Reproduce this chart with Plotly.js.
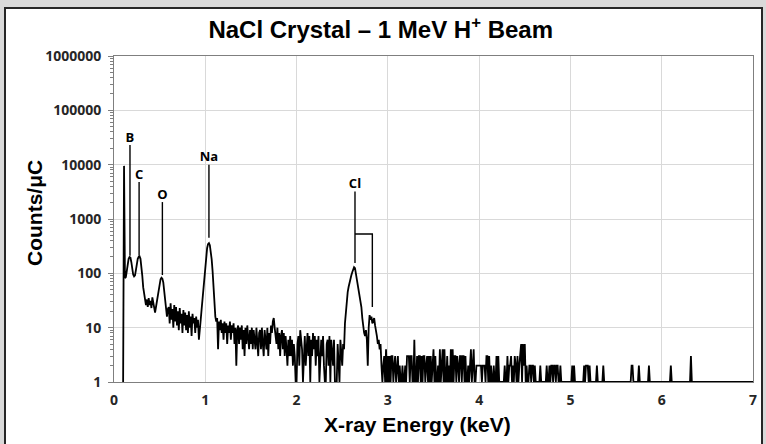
<!DOCTYPE html>
<html>
<head>
<meta charset="utf-8">
<script src="https://cdn.plot.ly/plotly-3.0.1.min.js"></script>
<style>
  html, body { margin: 0; padding: 0; background: #d9d9d9; width: 766px; height: 444px; overflow: hidden; }
  #frame { position: absolute; left: 4px; top: 7px; width: 759px; height: 450px; box-sizing: border-box; border: 2px solid #262626; background: #ffffff; }
  #chart { position: absolute; left: 0; top: 0; width: 766px; height: 444px; }
</style>
</head>
<body>
<div id="frame"></div>
<div id="chart"></div>
<script>
// ---- Spectrum: counts per µC, channels of 0.01 keV starting at 0.10 keV ----
var channelStart = 0.10;   // keV
var channelWidth = 0.01;   // keV

var counts_0 = [ // 0.10 - 0.99 keV
  1, 9500, 82, 85, 110, 150, 185, 200, 195, 160,
  120, 95, 88, 92, 115, 150, 185, 200, 205, 185,
  140, 90, 55, 40, 32, 26, 33, 24, 35, 26,
  31, 23, 36, 27, 22, 19, 24, 30, 40, 52,
  68, 78, 83, 80, 68, 50, 34, 24, 16, 22,
  24, 12, 28, 14, 22, 10, 26, 13, 24, 11,
  20, 9, 23, 12, 18, 8, 21, 11, 19, 9,
  17, 8, 20, 10, 16, 7, 18, 12, 15, 8,
  16, 10, 14, 6, 12, 14, 22, 35, 60, 95
];
var counts_1 = [ // 1.00 - 1.99 keV
  140, 210, 290, 345, 360, 330, 260, 180, 110, 55,
  28, 16, 13, 15, 4, 13, 9, 14, 8, 12,
  6, 13, 8, 12, 5, 11, 8, 13, 6, 11,
  8, 12, 5, 10, 2, 9, 11, 5, 10, 6,
  11, 4, 9, 3, 10, 5, 11, 6, 4, 9,
  5, 10, 4, 9, 6, 4, 10, 5, 3, 8,
  9, 4, 10, 5, 3, 9, 6, 4, 10, 3,
  8, 5, 11, 8, 13, 15, 10, 7, 5, 10,
  4, 8, 3, 7, 9, 4, 8, 3, 7, 4,
  2, 6, 3, 7, 3, 6, 2, 5, 3, 1
];
var counts_2 = [ // 2.00 - 2.99 keV
  1, 5, 7, 2, 9, 6, 4, 1, 5, 7,
  2, 6, 8, 3, 7, 1, 6, 3, 8, 4,
  7, 2, 6, 3, 7, 1, 2, 6, 3, 7,
  2, 1, 1, 5, 6, 2, 7, 1, 6, 4,
  2, 6, 1, 1, 1, 5, 2, 1, 6, 3,
  2, 5, 4, 12, 22, 32, 45, 56, 70, 80,
  92, 105, 120, 130, 125, 100, 75, 55, 45, 38,
  30, 24, 15, 10, 8, 7, 9, 6, 2, 10,
  17, 14, 16, 12, 13, 15, 11, 9, 7, 5,
  6, 4, 5, 2, 1, 2, 3, 1, 4, 1
];
var counts_3 = [ // 3.00 - 3.99 keV
  3, 1, 3, 1, 3, 3, 1, 2, 3, 1,
  2, 3, 1, 2, 1, 1, 2, 1, 1, 2,
  1, 3, 3, 3, 1, 3, 3, 1, 1, 6,
  1, 1, 3, 1, 3, 3, 1, 3, 1, 3,
  3, 1, 2, 3, 1, 3, 1, 3, 1, 2,
  4, 1, 3, 1, 1, 2, 1, 4, 1, 2,
  4, 1, 4, 1, 1, 3, 1, 2, 1, 4,
  1, 4, 1, 3, 3, 1, 3, 2, 1, 3,
  3, 1, 3, 3, 1, 3, 1, 1, 2, 1,
  3, 4, 1, 2, 4, 1, 1, 2, 2, 2
];
var counts_4 = [ // 4.00 - 4.99 keV
  2, 2, 2, 1, 2, 2, 2, 1, 3, 3,
  1, 3, 1, 2, 1, 1, 2, 1, 1, 3,
  1, 3, 1, 1, 1, 1, 1, 1, 2, 1,
  1, 3, 1, 2, 2, 3, 1, 2, 1, 3,
  2, 1, 3, 1, 2, 4, 5, 1, 5, 2,
  5, 1, 2, 1, 1, 2, 2, 1, 2, 2,
  1, 2, 1, 1, 1, 1, 1, 2, 1, 1,
  1, 1, 1, 1, 2, 1, 1, 2, 1, 2,
  2, 1, 2, 2, 1, 2, 2, 1, 1, 2,
  1, 1, 1, 1, 1, 1, 1, 1, 1, 1
];
var counts_5 = [ // 5.00 - 5.99 keV
  1, 1, 2, 1, 2, 1, 1, 1, 1, 1,
  1, 1, 1, 1, 1, 2, 1, 2, 2, 2,
  1, 2, 1, 1, 1, 1, 1, 1, 1, 2,
  1, 1, 1, 1, 1, 1, 2, 1, 1, 1,
  1, 1, 1, 1, 1, 1, 1, 1, 1, 1,
  1, 1, 1, 1, 1, 1, 1, 1, 1, 1,
  1, 1, 1, 1, 1, 1, 1, 2, 2, 1,
  1, 1, 1, 1, 1, 2, 1, 1, 1, 1,
  1, 1, 1, 1, 1, 1, 2, 1, 1, 1,
  1, 1, 1, 1, 1, 1, 1, 1, 1, 1
];
var counts_6 = [ // 6.00 - 7.00 keV
  1, 1, 1, 1, 1, 1, 1, 1, 1, 1,
  2, 1, 1, 1, 1, 1, 1, 1, 1, 1,
  1, 1, 1, 1, 1, 1, 1, 1, 1, 1,
  1, 1, 3, 1, 1, 1, 1, 1, 1, 1,
  1, 1, 1, 1, 1, 1, 1, 1, 1, 1,
  1, 1, 1, 1, 1, 1, 1, 1, 1, 1,
  1, 1, 1, 1, 1, 1, 1, 1, 1, 1,
  1, 1, 1, 1, 1, 1, 1, 1, 1, 1,
  1, 1, 1, 1, 1, 1, 1, 1, 1, 1,
  1, 1, 1, 1, 1, 1, 1, 1, 1, 1,
  1
];

// ---- Peak labels ----
var labelNames  = ['B', 'C', 'O', 'Na', 'Cl'];
var labelEnergy = [0.175, 0.275, 0.53, 1.04, 2.64];   // keV
var labelTop    = [23000, 4800, 2050, 10000, 3200];   // counts/µC
var labelBottom = [210, 210, 93, 450, 155];
// Cl K-beta bracket
var clBetaEnergy = 2.83;
var clBracketLevel = 530;
var clBetaBottom = 24;

// ---- Axis ticks ----
var yTickVals = [1, 10, 100, 1000, 10000, 100000, 1000000];
var yTickText = ['1', '10', '100', '1000', '10000', '100000', '1000000'];
var xTickVals = [0, 1, 2, 3, 4, 5, 6, 7];

var counts = [].concat(counts_0, counts_1, counts_2, counts_3, counts_4, counts_5, counts_6);

var traces = [];
traces.push({
  type: 'scatter', mode: 'lines',
  x0: channelStart, dx: channelWidth, y: counts,
  line: { color: '#000000', width: 1.8 },
  hoverinfo: 'skip', showlegend: false
});
for (var i = 0; i < labelNames.length; i++) {
  traces.push({
    type: 'scatter', mode: 'lines',
    x: [labelEnergy[i], labelEnergy[i]], y: [labelBottom[i], labelTop[i]],
    line: { color: '#000000', width: 1.4 }, hoverinfo: 'skip', showlegend: false
  });
}
traces.push({
  type: 'scatter', mode: 'lines',
  x: [labelEnergy[4], clBetaEnergy, clBetaEnergy], y: [clBracketLevel, clBracketLevel, clBetaBottom],
  line: { color: '#000000', width: 1.4 }, hoverinfo: 'skip', showlegend: false
});
traces.push({
  type: 'scatter', mode: 'text',
  x: labelEnergy, y: labelTop, text: labelNames,
  textposition: 'top center',
  textfont: { family: 'Open Sans', size: 13, color: '#000000', weight: 'bold' },
  hoverinfo: 'skip', showlegend: false, cliponaxis: false
});

var tickFont = { family: 'Open Sans', size: 14, color: '#262626', weight: 'bold' };
var axisTitleFont = { family: 'Liberation Sans, Arial', size: 21, color: '#000000', weight: 'bold' };

var layout = {
  width: 766, height: 444,
  margin: { l: 114, r: 13, t: 56, b: 62 },
  paper_bgcolor: 'rgba(0,0,0,0)',
  plot_bgcolor: '#ffffff',
  title: {
    text: 'NaCl Crystal \u2013 1 MeV H<sup>+</sup> Beam',
    font: { family: 'Liberation Sans, Arial', size: 24, color: '#000000', weight: 'bold' },
    x: 0.497, xref: 'container', y: 1 - 30 / 444, yref: 'container', yanchor: 'middle'
  },
  xaxis: {
    range: [0, 7], tickvals: xTickVals, ticks: '',
    showgrid: true, gridcolor: '#d9d9d9', gridwidth: 1,
    showline: true, linecolor: '#7f7f7f', linewidth: 1, mirror: true,
    zeroline: false, tickfont: tickFont, ticklabelstandoff: 5
  },
  yaxis: {
    type: 'log', range: [0, 6],
    tickvals: yTickVals, ticktext: yTickText,
    ticks: 'outside', ticklen: 5, tickcolor: '#7f7f7f',
    minor: { dtick: 'D1', ticks: 'outside', ticklen: 3, tickcolor: '#7f7f7f', showgrid: false },
    showgrid: true, gridcolor: '#d9d9d9', gridwidth: 1,
    showline: true, linecolor: '#7f7f7f', linewidth: 1, mirror: true,
    zeroline: false, tickfont: tickFont, ticklabelstandoff: 4
  },
  annotations: [
    { text: 'X-ray Energy (keV)', xref: 'paper', yref: 'paper', x: (417 - 114) / 639, y: (382 - 424) / 326,
      xanchor: 'center', yanchor: 'middle', showarrow: false, font: axisTitleFont },
    { text: 'Counts/\u03bcC', xref: 'paper', yref: 'paper', x: (34 - 114) / 639, y: (382 - 213) / 326,
      xanchor: 'center', yanchor: 'middle', textangle: -90, showarrow: false, font: axisTitleFont }
  ]
};

Plotly.newPlot('chart', traces, layout, { staticPlot: true, displayModeBar: false });
</script>
</body>
</html>
